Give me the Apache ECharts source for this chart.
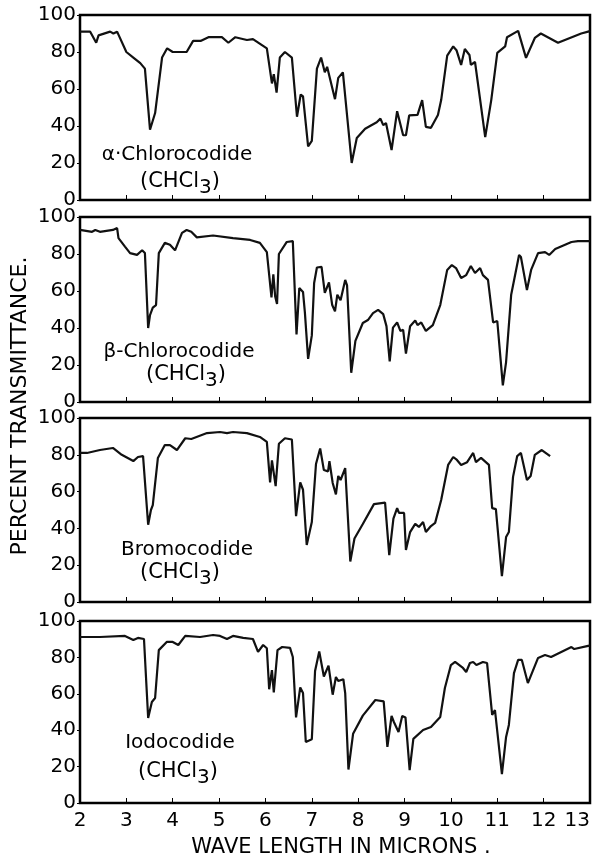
<!DOCTYPE html>
<html>
<head>
<meta charset="utf-8">
<script src="https://cdn.jsdelivr.net/npm/echarts@6/dist/echarts.min.js"></script>
<style>
  html, body { margin: 0; padding: 0; background: #fff; }
  #chart { width: 598px; height: 863px; }
</style>
</head>
<body>
<div id="chart"></div>
<script>
// wave length (microns), percent transmittance
var alphaChloro = [[2.0,91],[2.22,91],[2.35,85],[2.4,89],[2.65,91],[2.72,90],[2.8,91],[3.0,80],[3.15,77],[3.3,74],[3.4,71],[3.51,38],[3.62,47],[3.77,77],[3.88,82],[4.0,80],[4.2,80],[4.3,80],[4.44,86],[4.6,86],[4.77,88],[5.06,88],[5.2,85],[5.35,88],[5.6,86.5],[5.73,87],[6.03,82],[6.14,63],[6.18,68],[6.24,58],[6.31,77],[6.42,80],[6.57,77],[6.68,45],[6.76,57],[6.81,56],[6.92,29],[7.0,32],[7.11,71],[7.2,77],[7.28,69],[7.33,72],[7.5,54.5],[7.57,66],[7.67,69],[7.86,20],[7.97,33.5],[8.15,38.5],[8.4,42],[8.48,44],[8.54,40.5],[8.6,41.6],[8.72,27],[8.84,48],[8.88,48],[8.97,35],[9.03,35],[9.1,45.7],[9.28,46],[9.38,54],[9.46,39.5],[9.57,39],[9.72,46],[9.79,54],[9.92,78],[10.05,83],[10.12,81],[10.22,73],[10.3,81.6],[10.4,78.4],[10.43,73],[10.52,74.6],[10.74,34],[10.78,33.5],[10.87,54],[11.0,79.5],[11.17,83],[11.21,88],[11.45,91.4],[11.62,76.8],[11.81,87.6],[11.94,90],[12.31,85],[12.81,90],[12.96,91],[13.0,91.5]];
var betaChloro = [[2.0,93],[2.26,92],[2.33,93],[2.43,92],[2.71,93],[2.8,94],[2.83,88.6],[2.97,84],[3.08,80.5],[3.23,79.5],[3.34,82],[3.4,80.5],[3.47,40],[3.51,47],[3.57,51],[3.64,52.4],[3.7,80.5],[3.83,86],[3.94,85],[4.05,82],[4.2,91.4],[4.3,93],[4.4,92],[4.52,89],[4.87,90],[5.3,88.6],[5.67,87.6],[5.88,86],[6.03,81],[6.13,56.5],[6.17,69],[6.21,57],[6.25,53],[6.29,80],[6.46,86.5],[6.59,87],[6.67,36.5],[6.73,61.6],[6.81,59.5],[6.85,48.6],[6.92,23.3],[7.0,36],[7.05,64.3],[7.11,72.7],[7.21,73],[7.28,59],[7.37,64.6],[7.44,52.4],[7.5,49],[7.55,58],[7.62,55],[7.72,66],[7.76,63],[7.85,15.8],[7.94,33],[8.1,42.7],[8.21,44.3],[8.32,48],[8.43,49.8],[8.54,47.5],[8.61,41],[8.68,22],[8.75,40.2],[8.84,43],[8.91,38.4],[8.97,39],[9.03,26.2],[9.12,41],[9.23,44],[9.28,41.6],[9.36,43],[9.46,38.4],[9.61,41.6],[9.77,52.4],[9.92,71.4],[10.02,74],[10.11,72.4],[10.22,67],[10.33,68.6],[10.43,73.5],[10.52,69.7],[10.63,72.4],[10.69,68.6],[10.8,66],[10.91,43],[11.0,43.8],[11.12,9],[11.19,21.6],[11.3,58],[11.47,79.5],[11.51,78.4],[11.64,60.5],[11.73,71.4],[11.88,80.5],[12.03,81],[12.12,79.5],[12.25,82.7],[12.6,86.5],[12.74,87],[13.0,87]];
var bromo = [[2.0,81],[2.15,81],[2.43,82.6],[2.71,83.7],[2.9,80],[3.15,76.6],[3.25,78.8],[3.36,79.3],[3.47,42],[3.53,50],[3.57,52.7],[3.68,78.3],[3.83,85.3],[3.94,85.3],[4.09,82.6],[4.27,89],[4.4,88.6],[4.74,91.8],[5.02,92.4],[5.17,91.8],[5.3,92.4],[5.6,91.8],[5.88,89.7],[6.03,87],[6.1,65],[6.14,77],[6.22,63],[6.29,86],[6.42,89],[6.57,88.3],[6.66,46.7],[6.75,65],[6.81,61],[6.89,31],[7.0,43.5],[7.09,75],[7.18,83.4],[7.26,71.7],[7.35,71],[7.38,76.5],[7.45,64.7],[7.52,58.5],[7.57,68.5],[7.62,66.3],[7.72,72.8],[7.83,22],[7.92,34.5],[8.1,42.4],[8.34,53.2],[8.58,54],[8.67,25.5],[8.76,45.3],[8.84,51],[8.88,48.4],[8.99,48.4],[9.03,28.3],[9.12,38],[9.23,42.5],[9.31,40.8],[9.4,43.5],[9.46,38],[9.57,41.3],[9.66,43],[9.79,55.4],[9.94,74.5],[10.05,78.8],[10.13,77.2],[10.22,74.5],[10.35,76],[10.48,81],[10.54,76],[10.65,78.3],[10.82,74.5],[10.89,51],[10.97,50.5],[11.1,14],[11.19,35.3],[11.25,38],[11.34,68],[11.43,79.3],[11.51,81],[11.64,66.3],[11.72,68.5],[11.81,80],[11.96,82.6],[12.14,79.3]];
var iodo = [[2.0,91.2],[2.43,91.2],[2.97,91.8],[3.15,89.6],[3.25,90.7],[3.38,90.1],[3.47,46.7],[3.55,55.5],[3.62,57.7],[3.7,84],[3.87,88.5],[4.0,88.5],[4.12,86.8],[4.27,91.8],[4.59,91.2],[4.87,92.3],[5.02,91.8],[5.17,90.1],[5.3,91.8],[5.52,90.7],[5.73,90.1],[5.84,83],[5.95,86.8],[6.03,85],[6.08,62.5],[6.14,73],[6.18,60.7],[6.26,84],[6.36,85.7],[6.53,85.2],[6.59,80.2],[6.66,47],[6.75,63.5],[6.81,60.4],[6.87,33.5],[7.0,35],[7.07,72.5],[7.16,83.2],[7.26,69.5],[7.36,75.5],[7.45,59.5],[7.52,69.2],[7.57,67],[7.68,68],[7.72,60.4],[7.79,18.4],[7.89,38],[8.1,48],[8.37,56.6],[8.55,55.8],[8.63,30.8],[8.72,47.8],[8.77,44.5],[8.87,39],[8.95,47.8],[9.02,47],[9.11,18.1],[9.19,35.2],[9.4,40.1],[9.57,41.8],[9.77,47.3],[9.87,63.2],[10.0,75.8],[10.09,77.5],[10.26,74.2],[10.33,72],[10.41,76.9],[10.48,77.5],[10.55,75.8],[10.69,77.5],[10.78,76.9],[10.89,48.4],[10.95,51.1],[11.1,15.9],[11.19,36.3],[11.25,42.9],[11.36,71.4],[11.45,78.6],[11.53,78.6],[11.66,65.9],[11.88,79.7],[12.03,81.3],[12.16,80.2],[12.6,85.7],[12.66,84.6],[12.96,86.3],[13.0,86.5]];

var spectra = [alphaChloro, betaChloro, bromo, iodo];
var compounds = ['α·Chlorocodide', 'β-Chlorocodide', 'Bromocodide', 'Iodocodide'];
var solvent = '(CHCl{s|3})';
var xTicks = [2, 3, 4, 5, 6, 7, 8, 9, 10, 11, 12, 13];
var yTicks = [0, 20, 40, 60, 80, 100];

var FONT = 'DejaVu Sans';
var panels = [
    {top: 15, height: 185, nameX: 177, nameY: 155, subX: 180, subY: 182},
    {top: 217, height: 185, nameX: 179, nameY: 352, subX: 186, subY: 375},
    {top: 418, height: 184, nameX: 187, nameY: 550, subX: 180, subY: 573},
    {top: 621, height: 182, nameX: 180, nameY: 743, subX: 178, subY: 772}
];

var grids = [], xAxes = [], yAxes = [], series = [], graphics = [];
for (var i = 0; i < panels.length; i++) {
    var p = panels[i];
    grids.push({left: 80, right: 8, top: p.top, height: p.height, show: true,
        outerBoundsMode: 'none', containLabel: false,
        borderColor: '#000', borderWidth: 2.5, backgroundColor: '#fff'});
    xAxes.push({
        gridIndex: i, type: 'value', min: xTicks[0], max: xTicks[xTicks.length - 1], interval: 1,
        axisLine: {show: false},
        axisTick: {show: true, inside: true, length: 5, lineStyle: {color: '#000', width: 1}},
        axisLabel: {show: i == panels.length - 1, fontSize: 20, fontFamily: FONT, color: '#000', margin: 8,
            alignMaxLabel: 'right'},
        splitLine: {show: false}
    });
    yAxes.push({
        gridIndex: i, type: 'value', min: yTicks[0], max: yTicks[yTicks.length - 1], interval: 20,
        axisLine: {show: false},
        axisTick: {show: true, length: 3, lineStyle: {color: '#000', width: 1}},
        axisLabel: {fontSize: 20, fontFamily: FONT, color: '#000', margin: 4},
        splitLine: {show: false}
    });
    series.push({
        type: 'line', xAxisIndex: i, yAxisIndex: i, data: spectra[i],
        showSymbol: false, symbol: 'none', smooth: false, animation: false,
        lineStyle: {color: '#111', width: 2.2}
    });
    graphics.push({type: 'text', x: p.nameX, y: p.nameY, style: {
        text: compounds[i], fill: '#000', fontSize: 20, fontFamily: FONT,
        textAlign: 'center', textVerticalAlign: 'middle'}});
    graphics.push({type: 'text', x: p.subX, y: p.subY, style: {
        text: solvent, fill: '#000', fontSize: 21, fontFamily: FONT,
        textAlign: 'center', textVerticalAlign: 'middle',
        rich: {s: {fontSize: 20, fontFamily: FONT, fill: '#000', padding: [12, 0, 0, 0]}}}});
}
graphics.push({type: 'text', x: 20, y: 406, rotation: Math.PI / 2, style: {
    text: 'PERCENT TRANSMITTANCE.', fill: '#000', fontSize: 22, fontFamily: FONT,
    textAlign: 'center', textVerticalAlign: 'middle'}});
graphics.push({type: 'text', x: 341, y: 848, style: {
    text: 'WAVE LENGTH IN MICRONS .', fill: '#000', fontSize: 21, fontFamily: FONT,
    textAlign: 'center', textVerticalAlign: 'middle'}});

var chart = echarts.init(document.getElementById('chart'));
chart.setOption({
    backgroundColor: '#fff',
    animation: false,
    grid: grids,
    xAxis: xAxes,
    yAxis: yAxes,
    series: series,
    graphic: graphics
});
</script>
</body>
</html>
